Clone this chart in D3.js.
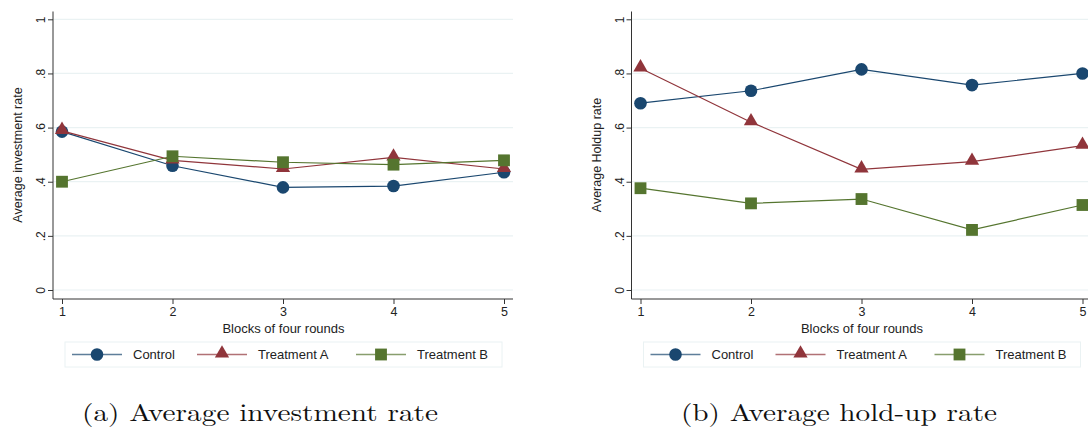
<!DOCTYPE html>
<html>
<head>
<meta charset="utf-8">
<script src="https://cdn.jsdelivr.net/npm/d3@7"></script>
<style>
  body { margin: 0; background: #fff; }
  svg { display: block; }
</style>
</head>
<body>
<svg id="chart" width="1088" height="430"></svg>
<script>
// data
var blocks = [1, 2, 3, 4, 5];
var yTicks = [0, 0.2, 0.4, 0.6, 0.8, 1];
var seriesNames = ["Control", "Treatment A", "Treatment B"];
var seriesColors = ["#1a476f", "#90353b", "#55752f"];
var seriesShapes = ["circle", "triangle", "square"];

var investControl = [0.585, 0.459, 0.379, 0.384, 0.435];
var investTreatA  = [0.588, 0.479, 0.447, 0.490, 0.447];
var investTreatB  = [0.400, 0.494, 0.472, 0.463, 0.479];

var holdupControl = [0.690, 0.736, 0.815, 0.757, 0.800];
var holdupTreatA  = [0.819, 0.620, 0.446, 0.474, 0.533];
var holdupTreatB  = [0.376, 0.320, 0.336, 0.222, 0.314];

var svg = d3.select("#chart");
var font = "'Liberation Sans', Arial, sans-serif";

var symbolFor = function(shape) {
    if (shape === "circle") return d3.symbol().type(d3.symbolCircle).size(125);
    if (shape === "triangle") return d3.symbol().type(d3.symbolTriangle).size(88);
    return d3.symbol().type(d3.symbolSquare).size(140);
};

var tickText = function(v) {
    if (v === 0) return "0";
    if (v === 1) return "1";
    return d3.format(".1f")(v).replace(/^0/, "");
};

var panel = function(left, axisRight, yTitle, values, caption, captionX, captionW) {
    let g = svg.append("g").attr("transform", `translate(${left}, 0)`);

    let x = d3.scaleLinear().domain([1, 5]).range([9, 451]);
    let y = d3.scaleLinear().domain([0, 1]).range([290, 19.3]);

    // grid
    g.selectAll(".grid")
        .data(yTicks)
        .enter()
        .append("line")
        .attr("x1", 0)
        .attr("x2", axisRight)
        .attr("y1", d => y(d))
        .attr("y2", d => y(d))
        .style("stroke", "#eaf2f3")
        .style("stroke-width", 1.2);

    // y axis
    let ya = g.append("g")
        .call(d3.axisLeft(y).tickValues(yTicks).tickFormat(tickText).tickSize(5).tickSizeOuter(0));
    ya.select(".domain").attr("d", "M0,11.5V299").style("stroke", "#333");
    ya.selectAll(".tick line").style("stroke", "#333");
    ya.selectAll("text")
        .style("font-family", font)
        .style("font-size", "12px")
        .style("fill", "#222")
        .attr("x", null).attr("dy", null)
        .attr("text-anchor", "middle")
        .attr("transform", "translate(-8, 0) rotate(-90)");

    // x axis
    let xa = g.append("g")
        .attr("transform", "translate(0, 299)")
        .call(d3.axisBottom(x).tickValues(blocks).tickFormat(d3.format("d")).tickSize(5).tickSizeOuter(0));
    xa.select(".domain").attr("d", `M0,0H${axisRight}`).style("stroke", "#333");
    xa.selectAll(".tick line").style("stroke", "#333");
    xa.selectAll("text")
        .style("font-family", font)
        .style("font-size", "12.5px")
        .style("fill", "#222")
        .attr("y", 8);

    g.append("text")
        .attr("x", 230.5)
        .attr("y", 333)
        .attr("text-anchor", "middle")
        .style("font-family", font)
        .style("font-size", "13px")
        .style("fill", "#222")
        .text("Blocks of four rounds");

    g.append("text")
        .attr("transform", "translate(-31, 155) rotate(-90)")
        .attr("text-anchor", "middle")
        .style("font-family", font)
        .style("font-size", "12.5px")
        .style("fill", "#222")
        .text(yTitle);

    // series
    let line = d3.line().x((d, i) => x(blocks[i])).y(d => y(d));
    values.forEach(function(vals, s) {
        g.append("path")
            .attr("d", line(vals))
            .style("fill", "none")
            .style("stroke", seriesColors[s])
            .style("stroke-width", 1.2);
        g.selectAll(null)
            .data(vals)
            .enter()
            .append("path")
            .attr("d", symbolFor(seriesShapes[s]))
            .attr("transform", (d, i) => `translate(${x(blocks[i])}, ${y(d) - (seriesShapes[s] === "triangle" ? 1 : 0)})`)
            .style("fill", seriesColors[s])
            .style("stroke", "none");
    });

    // legend
    let lg = g.append("g").attr("transform", "translate(12, 342)");
    lg.append("rect")
        .attr("width", 437)
        .attr("height", 25)
        .style("fill", "#fff")
        .style("stroke", "#eaf2f3")
        .style("stroke-width", 1);
    let itemX = [7, 132, 291];
    seriesNames.forEach(function(name, s) {
        let it = lg.append("g").attr("transform", `translate(${itemX[s]}, 12.5)`);
        it.append("line")
            .attr("x1", 0).attr("x2", 50)
            .style("stroke", seriesColors[s])
            .style("stroke-opacity", 0.7)
            .style("stroke-width", 1.4);
        it.append("path")
            .attr("d", symbolFor(seriesShapes[s]))
            .attr("transform", `translate(25, ${seriesShapes[s] === "triangle" ? -1 : 0})`)
            .style("fill", seriesColors[s]);
        it.append("text")
            .attr("x", 61)
            .attr("y", 4.5)
            .style("font-family", font)
            .style("font-size", "13px")
            .style("fill", "#222")
            .text(name);
    });

    svg.append("text")
        .attr("x", captionX)
        .attr("y", 421)
        .attr("textLength", captionW)
        .attr("lengthAdjust", "spacingAndGlyphs")
        .style("font-family", "'Latin Modern Roman', 'DejaVu Serif', 'Liberation Serif', serif")
        .style("font-size", "24px")
        .style("fill", "#111")
        .text(caption);
};

panel(53, 460, "Average investment rate",
      [investControl, investTreatA, investTreatB],
      "(a) Average investment rate", 82, 356);
panel(631.5, 460, "Average Holdup rate",
      [holdupControl, holdupTreatA, holdupTreatB],
      "(b) Average hold-up rate", 681, 316);
</script>
</body>
</html>
